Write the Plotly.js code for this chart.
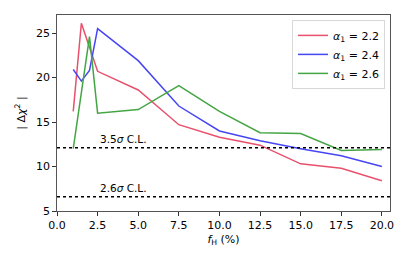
<!DOCTYPE html>
<html><head><meta charset="utf-8">
<script src="https://cdn.plot.ly/plotly-3.0.1.min.js"></script>
<style>html,body{margin:0;padding:0;background:#fff;}#c{width:407px;height:262px;}</style>
</head><body><div id="c"></div>
<script>
const fH = [1, 1.5, 2, 2.5, 5, 7.5, 10, 12.5, 15, 17.5, 20];
const red22 = [16.2, 26.1, 23.4, 20.7, 18.6, 14.7, 13.3, 12.4, 10.3, 9.8, 8.4];
const blue24 = [20.9, 19.6, 20.8, 25.5, 21.9, 16.8, 14.0, 12.9, 12.0, 11.2, 10.0];
const green26x = [1, 2, 2.5, 5, 7.5, 10, 12.5, 15, 17.5, 20];
const green26 = [12.0, 24.6, 16.0, 16.4, 19.1, 16.2, 13.8, 13.7, 11.8, 11.9];
const seriesNames = ["<i>α</i><sub>1</sub> = 2.2", "<i>α</i><sub>1</sub> = 2.4", "<i>α</i><sub>1</sub> = 2.6"];
const clLevels = [12.1, 6.6];
const clLabels = ["3.5<i>σ</i> C.L.", "2.6<i>σ</i> C.L."];
const xTicks = [0, 2.5, 5, 7.5, 10, 12.5, 15, 17.5, 20];
const yTicks = [5, 10, 15, 20, 25];

const colors = ["#e8506c", "#4646f4", "#44a544"];
const traces = [
  {x: fH, y: red22, name: seriesNames[0]},
  {x: fH, y: blue24, name: seriesNames[1]},
  {x: green26x, y: green26, name: seriesNames[2]}
].map((t, i) => Object.assign(t, {type: "scatter", mode: "lines", line: {color: colors[i], width: 1.5}}));

const shapes = clLevels.map(v => ({type: "line", xref: "paper", x0: 0, x1: 1, yref: "y", y0: v, y1: v,
  line: {color: "black", width: 1.5, dash: "dot"}}));
const annotations = clLevels.map((v, i) => ({x: 2.5, y: v, xref: "x", yref: "y", text: clLabels[i],
  showarrow: false, xanchor: "left", yanchor: "bottom", yshift: 1, font: {family: "DejaVu Sans", size: 10.5, color: "#000"}}));

const font = {family: "DejaVu Sans", size: 11, color: "#000"};
const layout = {
  width: 407, height: 262,
  margin: {l: 57, r: 17, t: 15, b: 51, pad: 0},
  paper_bgcolor: "#fff", plot_bgcolor: "#fff",
  font: font,
  showlegend: true,
  legend: {x: 0.985, y: 0.975, xanchor: "right", yanchor: "top", bgcolor: "rgba(255,255,255,0.8)",
    bordercolor: "#d8d8d8", borderwidth: 1, font: {family: "DejaVu Sans", size: 11}, tracegroupgap: 0,
    itemwidth: 30},
  xaxis: {range: [0, 20.5], tickvals: xTicks, ticktext: xTicks.map(v => v.toFixed(1)),
    ticks: "outside", ticklen: 3.5, tickwidth: 0.8, tickcolor: "#000", tickfont: {size: 11},
    showline: true, mirror: true, linecolor: "#555", linewidth: 1.2, showgrid: false, zeroline: false,
    title: {text: "<i>f</i><sub>H</sub> (%)", font: {family: "DejaVu Sans", size: 11}, standoff: 4}},
  yaxis: {range: [5, 27.03], tickvals: yTicks,
    ticks: "outside", ticklen: 3.5, tickwidth: 0.8, tickcolor: "#000", tickfont: {size: 11},
    showline: true, mirror: true, linecolor: "#555", linewidth: 1.2, showgrid: false, zeroline: false,
    title: {text: "| Δ<i>χ</i><sup>2</sup> |", font: {family: "DejaVu Sans", size: 11}, standoff: 8}},
  shapes: shapes,
  annotations: annotations
};
Plotly.newPlot("c", traces, layout, {staticPlot: true, displayModeBar: false});
</script></body></html>
